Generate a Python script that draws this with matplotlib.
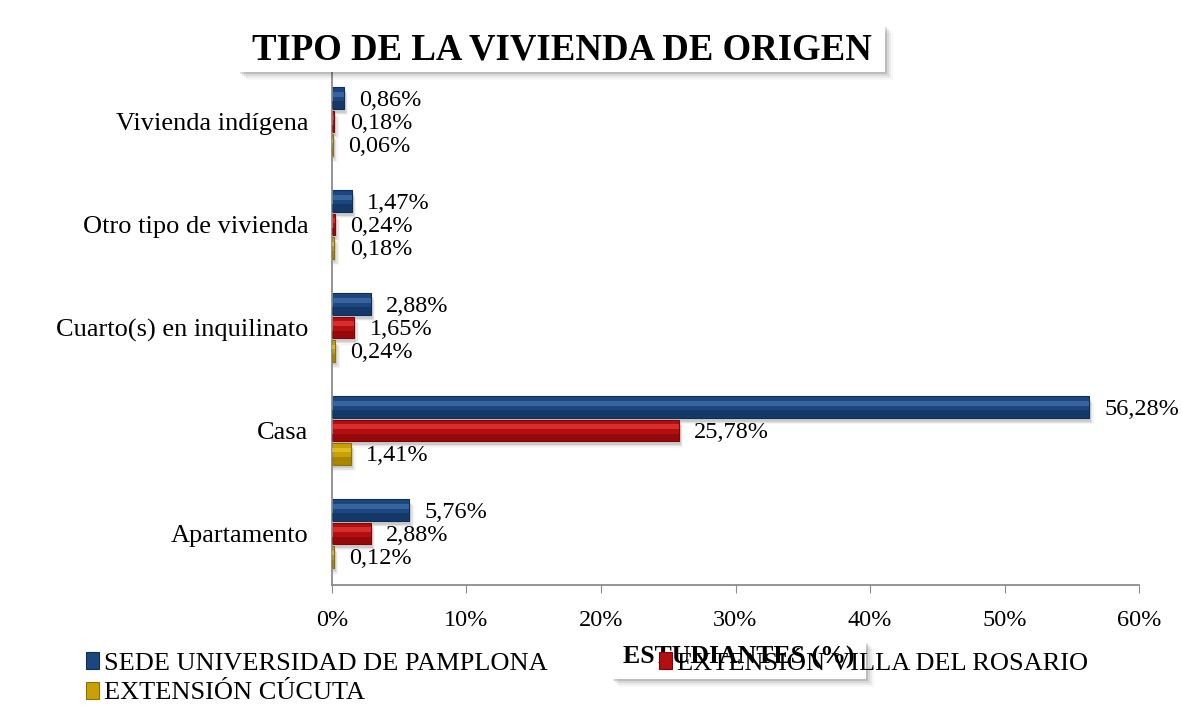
import matplotlib
matplotlib.use("Agg")
import matplotlib.pyplot as plt
from matplotlib.patches import Rectangle, Patch
import numpy as np

categories = ["Apartamento", "Casa", "Cuarto(s) en inquilinato", "Otro tipo de vivienda", "Vivienda indígena"]
series_names = ["SEDE UNIVERSIDAD DE PAMPLONA", "EXTENSIÓN VILLA DEL ROSARIO", "EXTENSIÓN CÚCUTA"]
pamplona = [5.76, 56.28, 2.88, 1.47, 0.86]
villa_rosario = [2.88, 25.78, 1.65, 0.24, 0.18]
cucuta = [0.12, 1.41, 0.24, 0.18, 0.06]
xticks = [0, 10, 20, 30, 40, 50, 60]
title = "TIPO DE LA VIVIENDA DE ORIGEN"
xlabel = "ESTUDIANTES (%)"

base_colors = ["#1B467E", "#B30E10", "#C9A106"]
dark_colors = ["#0F2F57", "#7E0508", "#8E7004"]
light_colors = ["#4F7DB8", "#F04A4A", "#F2D23A"]

plt.rcParams['font.family'] = ['Liberation Serif', 'DejaVu Serif']

W, H = 1182, 716
fig = plt.figure(figsize=(W / 100, H / 100), dpi=100)
fig.patch.set_facecolor("white")

ax = fig.add_axes([332 / W, (H - 585) / H, (1139 - 332) / W, 515 / H])

y = np.arange(len(categories))
bh = 0.21
step = 0.226
offsets = [step, 0.0, -step]
all_series = [pamplona, villa_rosario, cucuta]

for i, vals in enumerate(all_series):
    yy = y + offsets[i]
    v = np.array(vals)
    # soft shadow
    for k, a in enumerate([0.10, 0.07, 0.04]):
        d = 0.012 * (k + 1)
        ax.barh(yy - 0.025 - d, v + 0.15 + 0.1 * k, height=bh, left=0,
                color="black", alpha=a, linewidth=0, zorder=1)
    # base bar
    ax.barh(yy, v, height=bh, color=base_colors[i], edgecolor=dark_colors[i],
            linewidth=0.8, zorder=2)
    # bottom dark band
    ax.barh(yy - bh * 0.32, v, height=bh * 0.36, color=dark_colors[i],
            linewidth=0, alpha=0.55, zorder=3)
    # top highlight band
    ax.barh(yy + bh * 0.18, v, height=bh * 0.22, color=light_colors[i],
            linewidth=0, alpha=0.55, zorder=3)
    for yv, val in zip(yy, v):
        ax.annotate(f"{val:.2f}".replace(".", ",") + "%", xy=(val, yv - 0.02),
                    xytext=(11, 0), textcoords="offset points",
                    ha="left", va="center", fontsize=17.5, color="black", zorder=5)

ax.set_xlim(0, 60)
ax.set_ylim(-0.5, 4.5)
ax.set_xticks(xticks)
ax.set_xticklabels([f"{t}%" for t in xticks], fontsize=17.5)
ax.set_yticks(y)
ax.set_yticklabels(categories, fontsize=19)
ax.tick_params(axis="y", length=0, pad=17)
ax.tick_params(axis="x", length=6, color="#8C8C8C", direction="out", pad=12)
for s in ["top", "right"]:
    ax.spines[s].set_visible(False)
for s in ["left", "bottom"]:
    ax.spines[s].set_color("#8C8C8C")
    ax.spines[s].set_linewidth(1.3)

# Title box with shadow
tx0, ty0, tx1, ty1 = 238, 25, 885, 72
for k, a in enumerate([0.12, 0.08, 0.05, 0.03]):
    d = 2 + 2 * k
    fig.patches.append(Rectangle(((tx0 + d) / W, (H - ty1 - d) / H), (tx1 - tx0) / W, (ty1 - ty0) / H,
                                 transform=fig.transFigure, facecolor="black", alpha=a,
                                 edgecolor="none", zorder=0))
fig.patches.append(Rectangle((tx0 / W, (H - ty1) / H), (tx1 - tx0) / W, (ty1 - ty0) / H,
                             transform=fig.transFigure, facecolor="white", edgecolor="none", zorder=1))
fig.text((tx0 + tx1) / 2 / W, (H - (ty0 + ty1) / 2 - 1) / H, title, ha="center", va="center",
         fontsize=26.5, fontweight="bold", zorder=2)

# x label box with shadow
bx0, by0, bx1, by1 = 611, 641, 866, 679
for k, a in enumerate([0.12, 0.08, 0.05, 0.03]):
    d = 2 + 2 * k
    fig.patches.append(Rectangle(((bx0 + d) / W, (H - by1 - d) / H), (bx1 - bx0) / W, (by1 - by0) / H,
                                 transform=fig.transFigure, facecolor="black", alpha=a,
                                 edgecolor="none", zorder=0))
fig.patches.append(Rectangle((bx0 / W, (H - by1) / H), (bx1 - bx0) / W, (by1 - by0) / H,
                             transform=fig.transFigure, facecolor="white", edgecolor="none", zorder=1))
fig.text((bx0 + bx1) / 2 / W, (H - 657) / H, xlabel, ha="center", va="center",
         fontsize=18.5, fontweight="bold", zorder=2)

# Legend
handles = [Patch(facecolor=base_colors[i], edgecolor=dark_colors[i], linewidth=0.8) for i in range(3)]
order = [0, 2, 1]
leg = fig.legend([handles[i] for i in order], [series_names[i] for i in order],
                 loc="upper left", bbox_to_anchor=(86 / W, (H - 652) / H),
                 ncol=2, frameon=False, fontsize=19, handlelength=0.5, handleheight=0.6,
                 handletextpad=0.2, columnspacing=4.2, labelspacing=0.27, borderpad=0,
                 borderaxespad=0)
leg.set_zorder(5)

fig.savefig("out.png", dpi=100, facecolor="white")
